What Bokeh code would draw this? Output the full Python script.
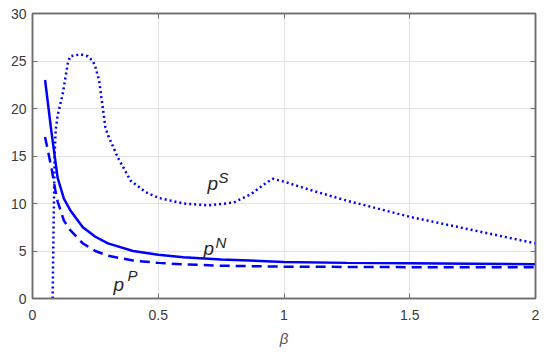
from bokeh.plotting import figure
from bokeh.models import LinearAxis, FixedTicker, CustomLabelingPolicy
from bokeh.core.properties import value
from bokeh.embed import file_html
from bokeh.resources import INLINE

# ---- data ----
pN_beta = [0.05, 0.075, 0.1, 0.125, 0.15, 0.2, 0.25, 0.3, 0.4, 0.5, 0.6, 0.75, 1.0, 1.25, 1.5, 1.75, 2.0]
pN_val = [23.0, 17.6, 12.7, 10.5, 9.3, 7.5, 6.5, 5.8, 5.0, 4.6, 4.35, 4.1, 3.85, 3.75, 3.7, 3.65, 3.6]

pP_beta = [0.05, 0.075, 0.09, 0.1, 0.125, 0.15, 0.2, 0.25, 0.3, 0.4, 0.5, 0.6, 0.75, 1.0, 1.5, 2.0]
pP_val = [17.0, 13.8, 11.5, 10.2, 8.2, 7.2, 5.8, 5.0, 4.5, 4.0, 3.75, 3.6, 3.45, 3.35, 3.3, 3.3]

pS_beta = [0.08, 0.084, 0.088, 0.092, 0.1, 0.12, 0.14, 0.15, 0.19, 0.22, 0.24, 0.25, 0.265,
           0.29, 0.3, 0.34, 0.39, 0.45, 0.5, 0.6, 0.7, 0.8, 0.87, 0.92, 0.955, 1.0, 1.12,
           1.25, 1.5, 1.75, 2.0]
pS_val = [0.0, 8.0, 15.0, 17.7, 19.3, 21.5, 24.7, 25.5, 25.7, 25.5, 25.0, 24.4, 22.9,
          18.0, 17.2, 14.8, 12.4, 11.2, 10.6, 10.0, 9.8, 10.1, 11.0, 12.0, 12.6, 12.3, 11.3,
          10.3, 8.6, 7.2, 5.8]

x_ticks = [0, 0.5, 1, 1.5, 2]
x_tick_labels = ["0", "0.5", "1", "1.5", "2"]
y_ticks = [0, 5, 10, 15, 20, 25, 30]
y_tick_labels = ["0", "5", "10", "15", "20", "25", "30"]

curve_names = ["p", "p", "p"]
curve_sups = ["S", "N", "P"]

# ---- styling / layout ----
BLUE = "#0000ff"
AXC = "#6e6e6e"
TXT = "#3a3a3a"
FONT = "Liberation Sans"

p = figure(width=550, height=357, x_range=(0, 2), y_range=(0, 30),
           output_backend="svg", toolbar_location=None,
           min_border_left=32, min_border_right=15, min_border_top=13, min_border_bottom=59)

p.background_fill_color = "white"
p.border_fill_color = "white"
p.outline_line_color = AXC
p.outline_line_width = 1.5

for ax, ticks, labels in ((p.xaxis[0], x_ticks, x_tick_labels), (p.yaxis[0], y_ticks, y_tick_labels)):
    ax.ticker = FixedTicker(ticks=ticks)
    ax.major_label_overrides = {t: l for t, l in zip(ticks, labels)}
    ax.minor_tick_line_color = None
    ax.major_tick_in = 5
    ax.major_tick_out = 0
    ax.axis_line_color = AXC
    ax.axis_line_width = 1.5
    ax.major_tick_line_color = AXC
    ax.major_label_text_font = FONT
    ax.major_label_text_font_size = "14px"
    ax.major_label_text_color = TXT

p.xaxis[0].major_label_standoff = 11
p.yaxis[0].major_label_standoff = 6
p.xaxis[0].axis_label = "β"
p.xaxis[0].axis_label_text_font = FONT
p.xaxis[0].axis_label_text_font_style = "italic"
p.xaxis[0].axis_label_text_font_size = "15px"
p.xaxis[0].axis_label_text_color = "#555555"
p.xaxis[0].axis_label_standoff = 7

# mirrored axes (top / right) with inward ticks only, no labels
top = LinearAxis(ticker=FixedTicker(ticks=x_ticks),
                 major_label_policy=CustomLabelingPolicy(code="for (const i of indices) indices.unset(i); return indices;"))
right = LinearAxis(ticker=FixedTicker(ticks=y_ticks),
                   major_label_policy=CustomLabelingPolicy(code="for (const i of indices) indices.unset(i); return indices;"))
for ax in (top, right):
    ax.major_label_standoff = 0
    ax.minor_tick_line_color = None
    ax.major_tick_in = 5
    ax.major_tick_out = 0
    ax.axis_line_color = AXC
    ax.axis_line_width = 1.5
    ax.major_tick_line_color = AXC
p.add_layout(top, "above")
p.add_layout(right, "right")

p.xgrid.ticker = FixedTicker(ticks=x_ticks)
p.ygrid.ticker = FixedTicker(ticks=y_ticks)
p.grid.grid_line_color = "#e3e3e3"
p.grid.grid_line_width = 1

# curves
p.line(pS_beta, pS_val, line_color=BLUE, line_width=2.5, line_dash="2 3")
p.line(pP_beta, pP_val, line_color=BLUE, line_width=2.5, line_dash="10 6")
p.line(pN_beta, pN_val, line_color=BLUE, line_width=2.5)

# curve labels
lab_x = [0.696, 0.68, 0.322]
lab_y = [12.1, 5.26, 1.47]
sup_x = [0.74, 0.728, 0.378]
sup_y = [12.7, 5.9, 2.42]
p.text(x=lab_x, y=lab_y, text=curve_names, text_font=value(FONT), text_font_style="italic",
       text_font_size="19px", text_color="#262626", text_align="left", text_baseline="alphabetic")
p.text(x=sup_x, y=sup_y, text=curve_sups, text_font=value(FONT), text_font_style="italic",
       text_font_size="15px", text_color="#262626", text_align="left", text_baseline="alphabetic")

open("out.html", "w").write(file_html(p, INLINE))
